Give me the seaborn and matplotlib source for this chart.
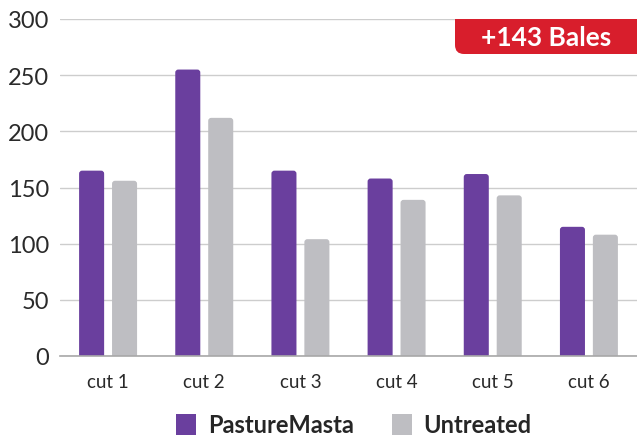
import matplotlib
matplotlib.use("Agg")
import matplotlib.pyplot as plt
from matplotlib.patches import FancyBboxPatch, Patch
import seaborn as sns
import pandas as pd

categories = ["cut 1", "cut 2", "cut 3", "cut 4", "cut 5", "cut 6"]
series_names = ["PastureMasta", "Untreated"]
pasturemasta = [165, 255, 165, 158, 162, 115]
untreated = [156, 212, 104, 139, 143, 108]
y_ticks = [0, 50, 100, 150, 200, 250, 300]
badge_text = "+143 Bales"

PURPLE = "#6A3F9E"
GRAY = "#BEBEC2"
RED = "#D81E2C"

df = pd.DataFrame({
    "cut": categories * 2,
    "value": pasturemasta + untreated,
    "series": [series_names[0]] * len(categories) + [series_names[1]] * len(categories),
})

sns.set_theme(style="white")
plt.rcParams["font.family"] = ["Lato", "DejaVu Sans"]

W, H = 637, 439
fig = plt.figure(figsize=(W / 100, H / 100), dpi=100)
ax_left, ax_right, ax_top, ax_bottom = 60, 637, 20, 357
ax = fig.add_axes([ax_left / W, 1 - ax_bottom / H, (ax_right - ax_left) / W, (ax_bottom - ax_top) / H])

sns.barplot(data=df, x="cut", y="value", hue="series", order=categories,
            hue_order=series_names, palette=[PURPLE, GRAY], width=0.685, gap=0.24,
            saturation=1, legend=False, ax=ax)

ax.set_xlim(-0.5, 5.5)
ax.set_ylim(0, 300)

# rounded top corners on the bars
px_x = (ax_right - ax_left) / 6.0
px_y = (ax_bottom - ax_top) / 300.0
aspect = px_x / px_y
r = 3.0 / px_x
for p in list(ax.patches):
    x, y = p.get_x(), p.get_y()
    w, h = p.get_width(), p.get_height()
    fc = p.get_facecolor()
    p.remove()
    fb = FancyBboxPatch((x, y - 2 * r * aspect), w, h + 2 * r * aspect,
                        boxstyle=f"round,pad=0,rounding_size={r}",
                        mutation_aspect=aspect, facecolor=fc, edgecolor="none",
                        clip_on=True, zorder=2)
    ax.add_patch(fb)

ax.set_yticks(y_ticks)
ax.set_yticklabels([str(t) for t in y_ticks])
ax.yaxis.grid(True, color="#CDCDCD", linewidth=1.0)
ax.xaxis.grid(False)
ax.set_axisbelow(True)
for s in ["top", "right", "left"]:
    ax.spines[s].set_visible(False)
ax.spines["bottom"].set_color("#A8A8A8")
ax.spines["bottom"].set_linewidth(1.2)
ax.spines["bottom"].set_zorder(3)

ax.tick_params(axis="y", length=0, pad=8, labelsize=17, labelcolor="#2a2a2a")
ax.tick_params(axis="x", which="major", length=0, pad=12, labelsize=13.5, labelcolor="#2a2a2a")
ax.set_xticks([i - 0.5 for i in range(len(categories) + 1)], minor=True)
ax.tick_params(axis="x", which="minor", length=10, width=1.2, color="#A8A8A8", direction="out")
ax.set_xlabel("")
ax.set_ylabel("")

# badge
bx0 = (455 - ax_left) / (ax_right - ax_left)
by0 = (ax_bottom - 55) / (ax_bottom - ax_top)
asp = (ax_right - ax_left) / (ax_bottom - ax_top)
rs = 9.0 / (ax_right - ax_left)
badge = FancyBboxPatch((bx0, by0), 1.2 - bx0, 0.3, boxstyle=f"round,pad=0,rounding_size={rs}",
                       mutation_aspect=asp, transform=ax.transAxes, facecolor=RED,
                       edgecolor="none", clip_on=True, zorder=5)
ax.add_patch(badge)
ax.text((546 - ax_left) / (ax_right - ax_left), (ax_bottom - 38) / (ax_bottom - ax_top), badge_text,
        transform=ax.transAxes, ha="center", va="center", color="white",
        fontsize=19, fontweight="bold", zorder=6)

handles = [Patch(facecolor=PURPLE, edgecolor="none"), Patch(facecolor=GRAY, edgecolor="none")]
fig.legend(handles, series_names, loc="center", bbox_to_anchor=(354 / W, 1 - 426 / H),
           ncol=2, frameon=False, handlelength=0.85, handleheight=0.95, handletextpad=0.5,
           columnspacing=1.6, prop={"weight": "bold", "size": 17})

fig.savefig("out.png", dpi=100)
